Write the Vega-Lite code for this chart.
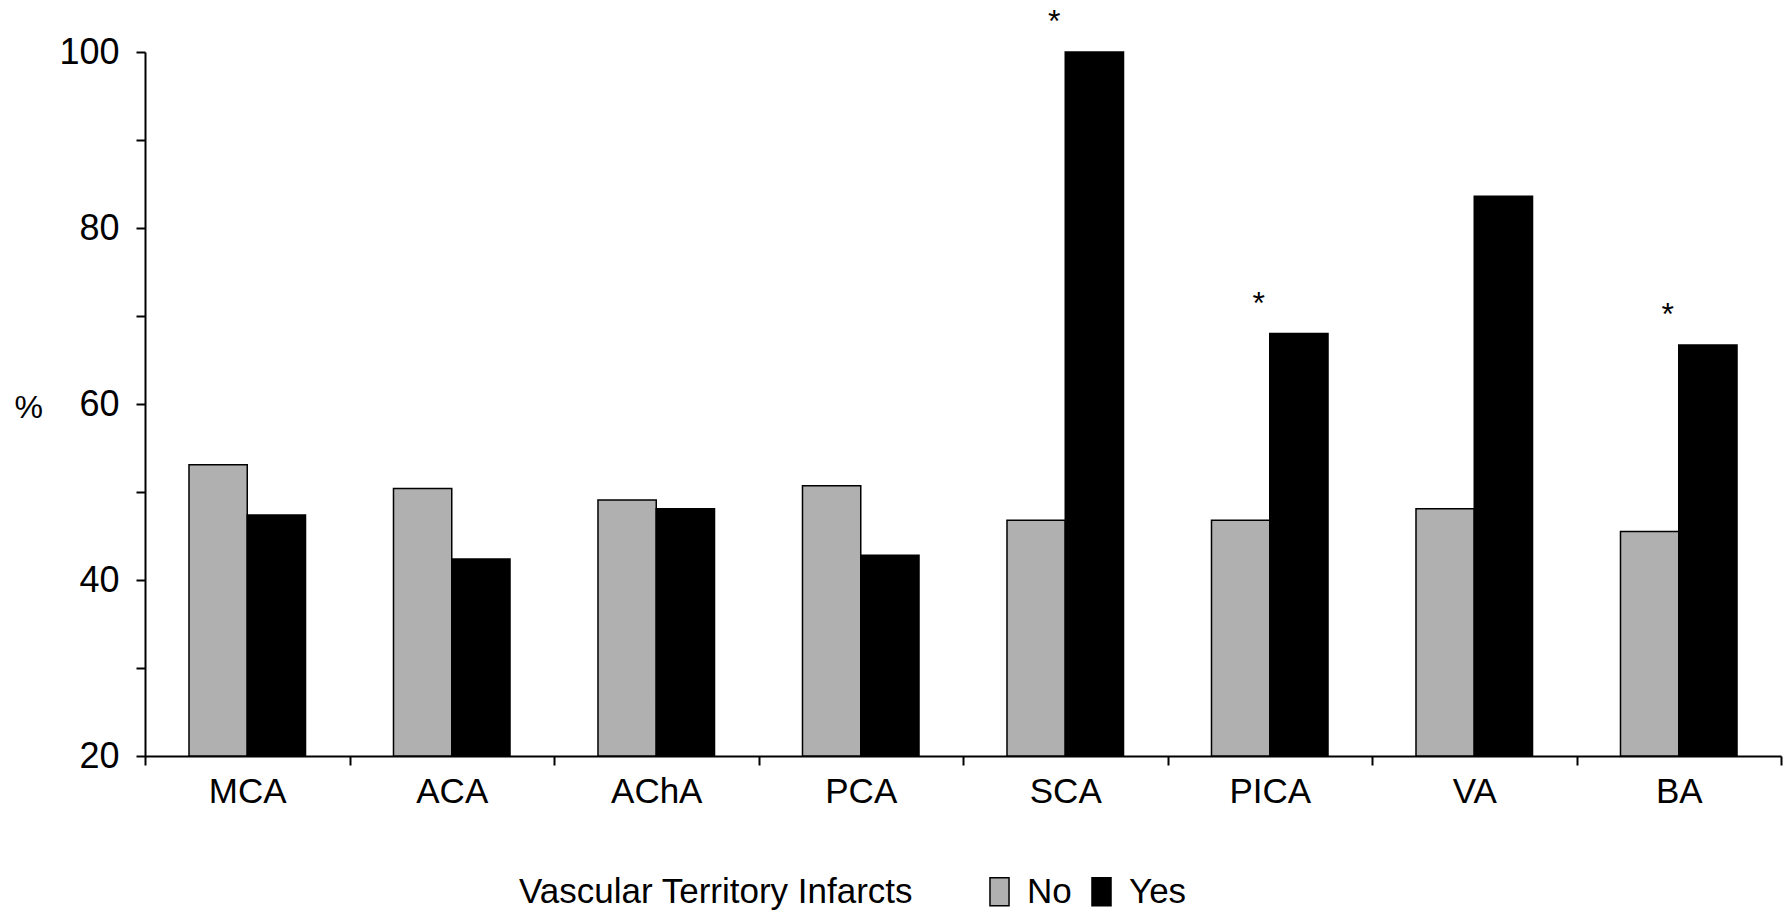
{
  "$schema": "https://vega.github.io/schema/vega-lite/v6.json",
  "autosize": "none",
  "padding": {"left": 145, "top": 52, "right": 6, "bottom": 158},
  "width": 1636,
  "height": 704,
  "background": "white",
  "config": {
    "view": {"stroke": null},
    "font": "Liberation Sans",
    "axis": {"labelFont": "Liberation Sans", "titleFont": "Liberation Sans", "labelColor": "black", "titleColor": "black", "domainColor": "black", "tickColor": "black", "grid": false},
    "legend": {"labelFont": "Liberation Sans", "titleFont": "Liberation Sans"}
  },
  "data": {
    "values": [
      {"territory": "MCA", "group": "No", "value": 53.1, "star": false},
      {"territory": "MCA", "group": "Yes", "value": 47.4, "star": false},
      {"territory": "ACA", "group": "No", "value": 50.4, "star": false},
      {"territory": "ACA", "group": "Yes", "value": 42.4, "star": false},
      {"territory": "AChA", "group": "No", "value": 49.1, "star": false},
      {"territory": "AChA", "group": "Yes", "value": 48.1, "star": false},
      {"territory": "PCA", "group": "No", "value": 50.7, "star": false},
      {"territory": "PCA", "group": "Yes", "value": 42.8, "star": false},
      {"territory": "SCA", "group": "No", "value": 46.8, "star": false},
      {"territory": "SCA", "group": "Yes", "value": 100, "star": true},
      {"territory": "PICA", "group": "No", "value": 46.8, "star": false},
      {"territory": "PICA", "group": "Yes", "value": 68.0, "star": true},
      {"territory": "VA", "group": "No", "value": 48.1, "star": false},
      {"territory": "VA", "group": "Yes", "value": 83.6, "star": false},
      {"territory": "BA", "group": "No", "value": 45.5, "star": false},
      {"territory": "BA", "group": "Yes", "value": 66.7, "star": true}
    ]
  },
  "encoding": {
    "x": {
      "field": "territory",
      "type": "nominal",
      "sort": ["MCA", "ACA", "AChA", "PCA", "SCA", "PICA", "VA", "BA"],
      "scale": {"paddingInner": 0, "paddingOuter": 0},
      "axis": {
        "title": null,
        "labelAngle": 0,
        "labelFontSize": 35,
        "labelPadding": 9,
        "tickBand": "extent",
        "tickSize": 9,
        "tickWidth": 2,
        "domainWidth": 2
      }
    }
  },
  "layer": [
    {
      "mark": {"type": "bar", "stroke": "black", "strokeWidth": 1.5},
      "encoding": {
        "xOffset": {"field": "group", "type": "nominal", "scale": {"paddingInner": 0, "paddingOuter": 0.755}},
        "y": {
          "field": "value",
          "type": "quantitative",
          "scale": {"domain": [20, 100], "nice": false, "zero": false},
          "axis": {
            "values": [20, 30, 40, 50, 60, 70, 80, 90, 100],
            "labelExpr": "datum.value % 20 == 0 ? datum.label : ''",
            "labelFontSize": 36,
            "labelPadding": 17,
            "tickSize": 9,
            "tickWidth": 2,
            "domainWidth": 2,
            "title": "%",
            "titleFontSize": 32,
            "titleFontWeight": "normal",
            "titleAngle": 0,
            "titleAlign": "left",
            "titleBaseline": "middle",
            "titleX": -131,
            "titleY": 355
          }
        },
        "y2": {"datum": 20},
        "fill": {
          "field": "group",
          "type": "nominal",
          "scale": {"domain": ["No", "Yes"], "range": ["#b0b0b0", "#000000"]},
          "legend": {
            "title": "Vascular Territory Infarcts",
            "orient": "none",
            "legendX": 374,
            "legendY": 822,
            "direction": "horizontal",
            "titleOrient": "left",
            "titleFontSize": 35,
            "titleFontWeight": "normal",
            "titleColor": "black",
            "titleLimit": 1000,
            "titlePadding": 68,
            "titleBaseline": "middle",
            "labelFontSize": 35,
            "labelColor": "black",
            "labelOffset": 10,
            "columnPadding": 12,
            "symbolType": "M-0.68,-1H0.68V1H-0.68Z",
            "symbolSize": 784,
            "symbolStrokeColor": "black",
            "symbolStrokeWidth": 1.5,
            "symbolOpacity": 1
          }
        }
      }
    },
    {
      "transform": [{"filter": "datum.star"}],
      "mark": {"type": "text", "text": "*", "fontSize": 32, "font": "Liberation Sans", "baseline": "middle", "dy": -30, "dx": -11, "color": "black"},
      "encoding": {
        "y": {"field": "value", "type": "quantitative"}
      }
    }
  ]
}
